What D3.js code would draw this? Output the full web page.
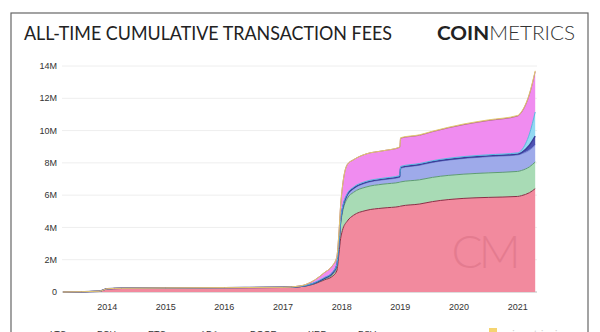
<!DOCTYPE html>
<html>
<head>
<meta charset="utf-8">
<script src="https://cdn.jsdelivr.net/npm/d3@7"></script>
<style>
  html, body { margin: 0; padding: 0; background: #fff; }
  svg { display: block; }
</style>
</head>
<body>
<script>
// ---------- data ----------
const dates = ["2013-04-01","2013-11-15","2014-01-01","2014-04-01","2015-01-01","2016-01-01","2017-01-01",
  "2017-04-15","2017-07-15","2017-09-15","2017-11-01","2017-12-01","2017-12-15","2017-12-25","2018-01-05",
  "2018-02-05","2018-03-15","2018-06-01","2018-09-15","2018-12-28","2019-01-03","2019-05-01","2019-07-20",
  "2020-02-01","2020-07-01","2021-01-01","2021-01-25","2021-03-15","2021-04-20"];
const seriesNames = ["LTC","BCH","ETC","ADA","DOGE","XRP","BSV"];
// values in millions USD (layer thickness)
const LTC  = [0,0.05,0.2,0.23,0.25,0.27,0.29,0.33,0.5,0.75,0.95,1.3,2.4,3.3,3.8,4.4,4.75,5.05,5.2,5.3,5.32,5.45,5.6,5.8,5.86,5.92,5.97,6.15,6.4];
const BCH  = [0,0,0,0,0,0,0,0,0.02,0.05,0.1,0.2,0.5,0.9,1.1,1.4,1.42,1.45,1.48,1.5,1.5,1.5,1.5,1.5,1.52,1.55,1.56,1.6,1.65];
const ETC  = [0,0,0,0,0,0,0,0.01,0.03,0.05,0.08,0.1,0.12,0.15,0.18,0.2,0.22,0.25,0.27,0.3,0.85,0.9,0.92,0.97,1.0,1.02,1.03,1.04,1.05];
const ADA  = [0,0,0,0,0,0,0,0,0,0,0,0.04,0.04,0.04,0.04,0.04,0.04,0.04,0.04,0.05,0.05,0.05,0.05,0.05,0.05,0.05,0.08,0.3,0.55];
const DOGE = [0,0,0,0,0,0,0,0.01,0.03,0.05,0.06,0.06,0.06,0.06,0.06,0.06,0.06,0.06,0.06,0.06,0.06,0.06,0.06,0.07,0.07,0.08,0.15,0.7,1.5];
const XRP  = [0,0,0,0,0,0,0,0.02,0.15,0.3,0.4,0.45,0.6,0.9,1.3,1.8,1.7,1.7,1.7,1.75,1.75,1.75,1.8,1.98,2.12,2.28,2.35,2.45,2.5];
const BSV  = [0,0,0,0,0,0,0,0,0,0,0,0,0,0,0,0,0,0,0,0.02,0.03,0.03,0.03,0.04,0.04,0.04,0.04,0.05,0.05];
const yTicks = [0,2,4,6,8,10,12,14];
const yTickLabels = ["0","2M","4M","6M","8M","10M","12M","14M"];
const xTickYears = [2014,2015,2016,2017,2018,2019,2020,2021];

const fills   = {LTC:"#f28a9e",BCH:"#a8dbb5",ETC:"#9eaaea",ADA:"#4d51b2",DOGE:"#92d9f2",XRP:"#f08cf0",BSV:"#f3df96"};
const strokes = {LTC:"#8c2d45",BCH:"#5e9c72",ETC:"#7381d2",ADA:"#3a3c98",DOGE:"#56b6e0",XRP:"#b46a8c",BSV:"#e2c870"};

// ---------- build ----------
const parse = d3.timeParse("%Y-%m-%d");
const valuesBy = {LTC,BCH,ETC,ADA,DOGE,XRP,BSV};
const rows = dates.map((d,i) => {
  const r = {date: parse(d)};
  seriesNames.forEach(k => r[k] = valuesBy[k][i]);
  return r;
});

const W = 600, H = 332;
const svg = d3.select("body").append("svg").attr("width", W).attr("height", H);

// frame
svg.append("rect").attr("x",11).attr("y",13).attr("width",577).attr("height",340)
  .attr("fill","none").attr("stroke","#666").attr("stroke-width",1.2);

// title
svg.append("text").attr("x",24).attr("y",40)
  .attr("font-family","Lato, 'Open Sans', sans-serif").attr("font-size",18.5)
  .attr("fill","#222").attr("textLength",368).attr("lengthAdjust","spacingAndGlyphs")
  .text("ALL-TIME CUMULATIVE TRANSACTION FEES");
const logo = svg.append("text").attr("x",437).attr("y",40)
  .attr("font-family","Lato, 'Open Sans', sans-serif").attr("font-size",19.5).attr("fill","#222")
  .attr("textLength",138).attr("lengthAdjust","spacingAndGlyphs");
logo.append("tspan").attr("font-weight","bold").text("COIN");
logo.append("tspan").attr("font-weight","300").attr("fill","#333").text("METRICS");

const x = d3.scaleTime().domain([parse("2013-04-01"), parse("2021-04-25")]).range([63, 536]);
const y = d3.scaleLinear().domain([0, 14]).range([292, 66]);

// gridlines
svg.append("g").selectAll("line").data(yTicks).join("line")
  .attr("x1",62).attr("x2",537).attr("y1",d=>y(d)).attr("y2",d=>y(d))
  .attr("stroke",d=> d===0 ? "#bbb" : "#eeeeee").attr("stroke-width",1);

// y labels
svg.append("g").selectAll("text").data(yTicks).join("text")
  .attr("x",57).attr("y",d=>y(d)+3.2).attr("text-anchor","end")
  .attr("font-family","'Liberation Sans', Arial, sans-serif").attr("font-size",9).attr("fill","#333")
  .text((d,i)=>yTickLabels[i]);

// x labels
svg.append("g").selectAll("text").data(xTickYears).join("text")
  .attr("x",d=>x(new Date(d,0,1))).attr("y",310).attr("text-anchor","middle")
  .attr("font-family","'Liberation Sans', Arial, sans-serif").attr("font-size",9).attr("fill","#333")
  .text(d=>d);

// stacked areas
const stack = d3.stack().keys(seriesNames);
const layers = stack(rows);
const area = d3.area().curve(d3.curveMonotoneX)
  .x(d=>x(d.data.date)).y0(d=>y(d[0])).y1(d=>y(d[1]));
const topLine = d3.line().curve(d3.curveMonotoneX)
  .x(d=>x(d.data.date)).y(d=>y(d[1]));

const g = svg.append("g");
g.selectAll("path.area").data(layers).join("path").attr("class","area")
  .attr("d",area).attr("fill",d=>fills[d.key]).attr("stroke","none");
g.selectAll("path.edge").data(layers).join("path").attr("class","edge")
  .attr("d",topLine).attr("fill","none").attr("stroke",d=>strokes[d.key])
  .attr("stroke-width",d=> d.key==="ADA" ? 1.4 : 1);

// watermark
svg.append("text").attr("x",484).attr("y",268).attr("text-anchor","middle")
  .attr("font-family","Lato, sans-serif").attr("font-weight","300").attr("font-size",46)
  .attr("fill","#d46a7e").attr("opacity",0.45).attr("letter-spacing",-4).text("CM");

// legend (mostly cut off at bottom)
const legX = [50,97,148,200,250,308,358];
const leg = svg.append("g");
seriesNames.forEach((k,i)=>{
  leg.append("rect").attr("x",legX[i]-26).attr("y",333).attr("width",20).attr("height",3)
    .attr("fill",fills[k]).attr("opacity",0.6);
  leg.append("text").attr("x",legX[i]).attr("y",336.5)
    .attr("font-family","'Liberation Sans', Arial, sans-serif").attr("font-size",9).attr("fill","#333")
    .text(k);
});
svg.append("rect").attr("x",489).attr("y",328).attr("width",8).attr("height",8).attr("fill","#f2c94c").attr("opacity",0.8);
svg.append("text").attr("x",502).attr("y",337).attr("font-family","Lato, sans-serif").attr("font-size",10)
  .attr("fill","#ccc").text("coinmetrics.io");
</script>
</body>
</html>
